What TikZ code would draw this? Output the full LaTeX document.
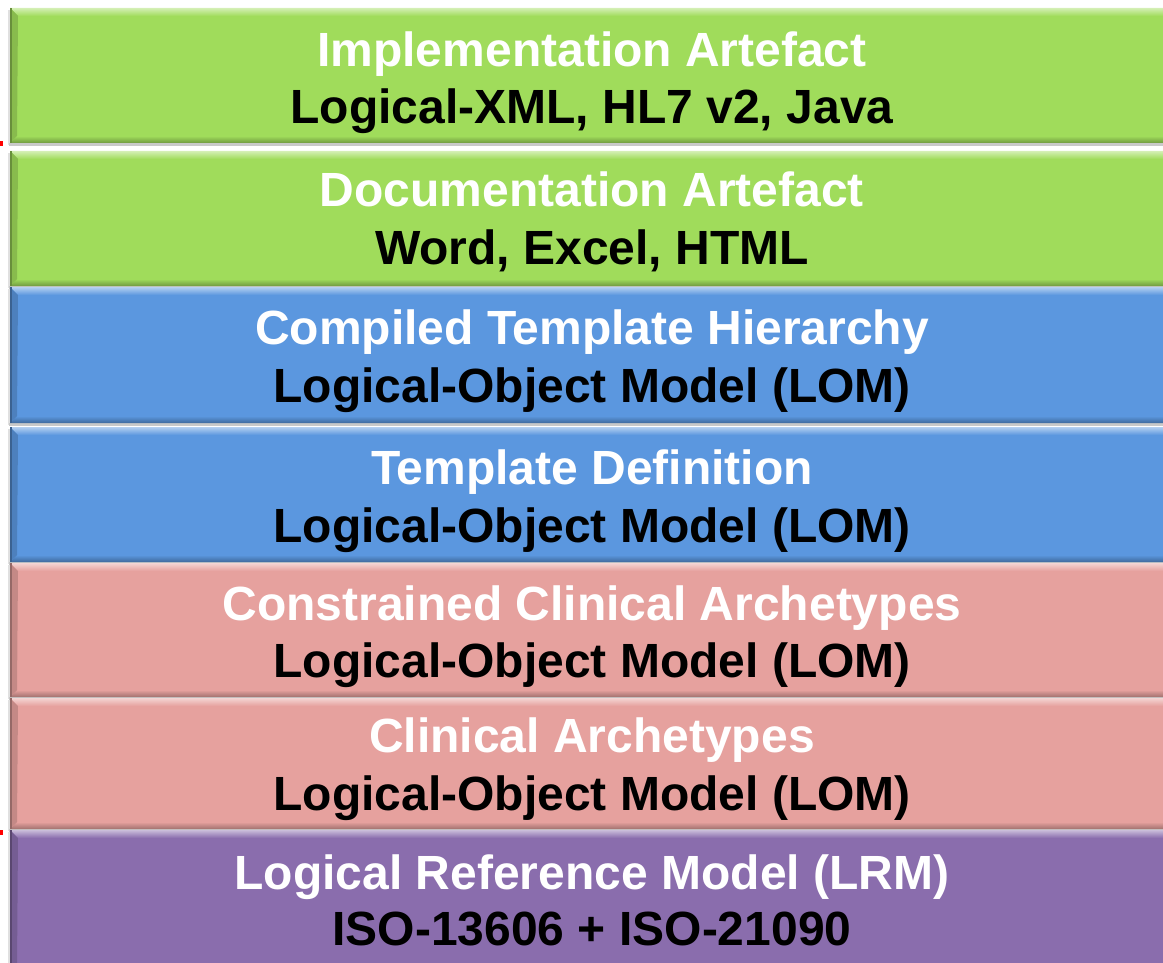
\documentclass[tikz,border=0pt]{standalone}
\usepackage{fontspec}
\setmainfont{Liberation Sans}
\usetikzlibrary{calc}

% layer colours
\definecolor{layergreen}{HTML}{A0DC5B}
\definecolor{layerblue}{HTML}{5B97DF}
\definecolor{layerpink}{HTML}{E6A19E}
\definecolor{layerpurple}{HTML}{8A6DAD}
\definecolor{markred}{HTML}{FF0000}

\tikzset{
  layertitle/.style={text=white, font=\fontsize{48}{54}\selectfont\bfseries, anchor=base, inner sep=0pt},
  layersub/.style={text=black, font=\fontsize{48}{54}\selectfont\bfseries, anchor=base, inner sep=0pt},
  layerbody/.style={rectangle, inner sep=0pt, anchor=north west, draw=none},
}

% one bevelled layer: #1 top, #2 bottom, #3 colour, #4 name, #5 title, #6 subtitle,
% #7 title baseline, #8 subtitle baseline
\newcommand{\bevlayer}[8]{%
  % soft shadow under the slab
  \fill[black!35, opacity=0.6] (9,#2) rectangle (1180,#2+3);
  \fill[black!20, opacity=0.6] (8,#1+2) rectangle (10,#2+2);
  % slab
  \node[layerbody, fill=#3, minimum width=1170pt, minimum height={(#2-#1)*1pt}] (#4) at (10,#1) {};
  % top bevel
  \shade[top color=#3!45!white, bottom color=#3]
    (10,#1) -- (1180,#1) -- (1180,#1+8) -- (18,#1+8) -- cycle;
  % bottom bevel
  \shade[top color=#3, bottom color=#3!70!black]
    (10,#2) -- (1180,#2) -- (1180,#2-7) -- (17,#2-7) -- cycle;
  % left bevel
  \fill[#3!85!black] (10,#1) -- (18,#1+8) -- (17,#2-7) -- (10,#2) -- cycle;
  \fill[#3!65!black] (10,#1) rectangle (11.5,#2);
  % texts
  \node[layertitle] (#4-title) at (592,#7) {#5};
  \node[layersub] (#4-sub) at (592,#8) {#6};
}

\begin{document}
\begin{tikzpicture}[x=1pt, y=-1pt]
  \useasboundingbox (0,0) rectangle (1163,963);
  \clip (0,0) rectangle (1163,963);
  \fill[white] (0,0) rectangle (1163,963);

  \bevlayer{8}{143}{layergreen}{impl}{Implementation Artefact}{Logical-XML, HL7 v2, Java}{67}{124}
  \bevlayer{151}{286}{layergreen}{doc}{Documentation Artefact}{Word, Excel, HTML}{207}{265}
  \bevlayer{287}{423}{layerblue}{compiled}{Compiled Template Hierarchy}{Logical-Object Model (LOM)}{344}{402}
  \bevlayer{427}{562}{layerblue}{tmpl}{Template Definition}{Logical-Object Model (LOM)}{484}{542}
  \bevlayer{563}{697}{layerpink}{constr}{Constrained Clinical Archetypes}{Logical-Object Model (LOM)}{620}{677}
  \bevlayer{698}{829}{layerpink}{arch}{Clinical Archetypes}{Logical-Object Model (LOM)}{752}{810}
  \bevlayer{830}{975}{layerpurple}{lrm}{Logical Reference Model (LRM)}{ISO-13606 + ISO-21090}{889}{945}

  % small red ticks at the left margin
  \fill[markred] (0,141) rectangle (3,146);
  \fill[markred] (0,830) rectangle (3,835);
\end{tikzpicture}
\end{document}
